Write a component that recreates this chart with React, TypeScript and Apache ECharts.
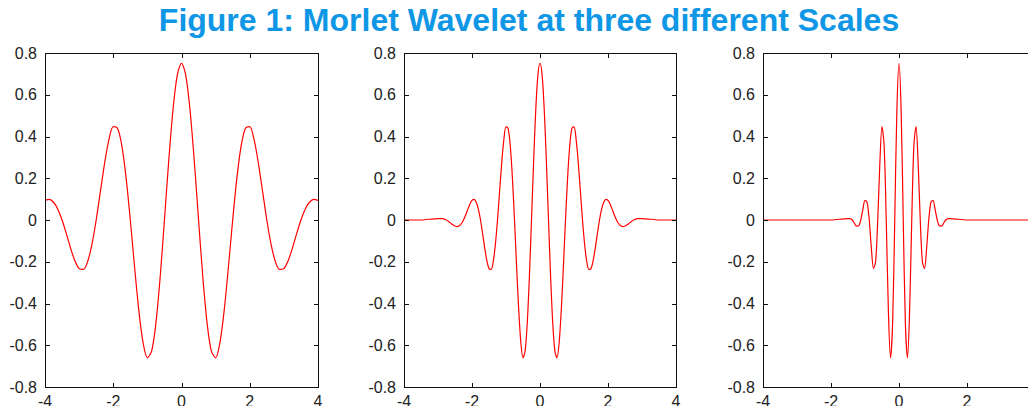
import React, { useEffect, useRef } from "react";
import * as echarts from "echarts";

const TITLE = "Figure 1: Morlet Wavelet at three different Scales";

// Panel 1 (widest scale)
const x1 = [-4, -3.875, -3.75, -3.625, -3.5, -3.375, -3.25, -3.125, -3, -2.875, -2.75, -2.625, -2.5, -2.375, -2.25,
  -2.125, -2, -1.875, -1.75, -1.625, -1.5, -1.375, -1.25, -1.125, -1, -0.875, -0.75, -0.625, -0.5, -0.375, -0.25,
  -0.125, 0, 0.125, 0.25, 0.375, 0.5, 0.625, 0.75, 0.875, 1, 1.125, 1.25, 1.375, 1.5, 1.625, 1.75, 1.875, 2, 2.125,
  2.25, 2.375, 2.5, 2.625, 2.75, 2.875, 3, 3.125, 3.25, 3.375, 3.5, 3.625, 3.75, 3.875, 4];
const y1 = [0.094, 0.099, 0.085, 0.052, 0, -0.065, -0.135, -0.195, -0.233, -0.237, -0.199, -0.117, 0, 0.138, 0.275,
  0.386, 0.447, 0.439, 0.357, 0.204, 0, -0.225, -0.434, -0.589, -0.66, -0.628, -0.494, -0.273, 0, 0.282, 0.527,
  0.693, 0.751, 0.693, 0.527, 0.282, 0, -0.273, -0.494, -0.628, -0.66, -0.589, -0.434, -0.225, 0, 0.204, 0.357,
  0.439, 0.447, 0.386, 0.275, 0.138, 0, -0.117, -0.199, -0.237, -0.233, -0.195, -0.135, -0.065, 0, 0.052, 0.085,
  0.099, 0.094];

// Panel 2 (middle scale)
const x2 = [-4, -3.5, -3, -2.875, -2.75, -2.6875, -2.625, -2.5625, -2.5, -2.4375, -2.375, -2.3125, -2.25, -2.1875,
  -2.125, -2.0625, -2, -1.9375, -1.875, -1.8125, -1.75, -1.6875, -1.625, -1.5625, -1.5, -1.4375, -1.375, -1.3125,
  -1.25, -1.1875, -1.125, -1.0625, -1, -0.9375, -0.875, -0.8125, -0.75, -0.6875, -0.625, -0.5625, -0.5, -0.4375,
  -0.375, -0.3125, -0.25, -0.1875, -0.125, -0.0625, 0, 0.0625, 0.125, 0.1875, 0.25, 0.3125, 0.375, 0.4375, 0.5,
  0.5625, 0.625, 0.6875, 0.75, 0.8125, 0.875, 0.9375, 1, 1.0625, 1.125, 1.1875, 1.25, 1.3125, 1.375, 1.4375, 1.5,
  1.5625, 1.625, 1.6875, 1.75, 1.8125, 1.875, 1.9375, 2, 2.0625, 2.125, 2.1875, 2.25, 2.3125, 2.375, 2.4375, 2.5,
  2.5625, 2.625, 2.6875, 2.75, 2.875, 3, 3.5, 4];
const y2 = [0, 0, 0.007, 0.007, 0, -0.007, -0.015, -0.023, -0.029, -0.032, -0.028, -0.018, 0, 0.024, 0.051, 0.076,
  0.094, 0.099, 0.085, 0.052, 0, -0.065, -0.135, -0.195, -0.233, -0.237, -0.199, -0.117, 0, 0.138, 0.275, 0.386,
  0.447, 0.439, 0.357, 0.204, 0, -0.225, -0.434, -0.589, -0.66, -0.628, -0.494, -0.273, 0, 0.282, 0.527, 0.693,
  0.751, 0.693, 0.527, 0.282, 0, -0.273, -0.494, -0.628, -0.66, -0.589, -0.434, -0.225, 0, 0.204, 0.357, 0.439,
  0.447, 0.386, 0.275, 0.138, 0, -0.117, -0.199, -0.237, -0.233, -0.195, -0.135, -0.065, 0, 0.052, 0.085, 0.099,
  0.094, 0.076, 0.051, 0.024, 0, -0.018, -0.028, -0.032, -0.029, -0.023, -0.015, -0.007, 0, 0.007, 0.007, 0, 0];

// Panel 3 (narrowest scale)
const x3 = [-4, -3, -2, -1.5, -1.4375, -1.375, -1.3125, -1.25, -1.1875, -1.125, -1.0625, -1, -0.9375, -0.875,
  -0.8125, -0.75, -0.6875, -0.625, -0.5625, -0.5, -0.4375, -0.375, -0.3125, -0.25, -0.1875, -0.125, -0.0625, 0,
  0.0625, 0.125, 0.1875, 0.25, 0.3125, 0.375, 0.4375, 0.5, 0.5625, 0.625, 0.6875, 0.75, 0.8125, 0.875, 0.9375, 1,
  1.0625, 1.125, 1.1875, 1.25, 1.3125, 1.375, 1.4375, 1.5, 2, 3, 4];
const y3 = [0, 0, 0, 0.007, 0.007, 0, -0.015, -0.029, -0.028, 0, 0.051, 0.094, 0.085, 0, -0.135, -0.233, -0.199,
  0, 0.275, 0.447, 0.357, 0, -0.434, -0.66, -0.494, 0, 0.527, 0.751, 0.527, 0, -0.494, -0.66, -0.434, 0,
  0.357, 0.447, 0.275, 0, -0.199, -0.233, -0.135, 0, 0.085, 0.094, 0.051, 0, -0.028, -0.029, -0.015, 0, 0.007,
  0.007, 0, 0, 0];

const X_MIN = -4, X_MAX = 4, X_STEP = 2;
const Y_MIN = -0.8, Y_MAX = 0.8, Y_STEP = 0.2;
const X_TICKS = [-4, -2, 0, 2, 4];
const Y_TICKS = [-0.8, -0.6, -0.4, -0.2, 0, 0.2, 0.4, 0.6, 0.8];

const panels = [
  { x: x1, y: y1 },
  { x: x2, y: y2 },
  { x: x3, y: y3 },
];

const gridBoxes = [
  { left: 45, top: 53, width: 273, height: 334 },
  { left: 404, top: 53, width: 272, height: 334 },
  { left: 763, top: 53, width: 272, height: 334 },
];

const FONT = "'Liberation Sans', Arial, Helvetica, sans-serif";
const TICK_LEN = 4;
const INK = "#111111";

export default function App() {
  const ref = useRef<HTMLDivElement>(null);
  useEffect(() => {
    if (!ref.current) return;
    const chart = echarts.init(ref.current, null, { renderer: "svg" });
    const mkLabel = () => ({ color: "#222", fontSize: 16, fontFamily: FONT });
    const xAxis: any[] = [];
    const yAxis: any[] = [];
    const series: any[] = [];
    gridBoxes.forEach((_, i) => {
      xAxis.push({
        type: "value", gridIndex: i, min: X_MIN, max: X_MAX, interval: X_STEP,
        axisLine: { show: false, onZero: false }, axisTick: { show: false }, splitLine: { show: false },
        axisLabel: { ...mkLabel(), margin: 6, showMaxLabel: i < 2 },
      });
      yAxis.push({
        type: "value", gridIndex: i, min: Y_MIN, max: Y_MAX, interval: Y_STEP,
        axisLine: { show: false, onZero: false }, axisTick: { show: false }, splitLine: { show: false },
        axisLabel: { ...mkLabel(), margin: 8, formatter: (v: number) => String(Math.round(v * 10) / 10) },
      });
      const p = panels[i];
      series.push({
        type: "line", xAxisIndex: i, yAxisIndex: i,
        data: p.x.map((xv, k) => [xv, p.y[k]]),
        smooth: 0.3, showSymbol: false, symbol: "none",
        lineStyle: { color: "#ff0000", width: 1.2 },
      });
    });
    chart.setOption({
      animation: false,
      grid: gridBoxes.map((g) => ({ ...g, outerBoundsMode: "none", containLabel: false })),
      xAxis,
      yAxis,
      series,
    });

    // box and inward ticks of each panel as thin filled bars, placed through the axes' own scales
    const toPx = (i: number, xv: number, yv: number): number[] => {
      const pt = chart.convertToPixel({ gridIndex: i }, [xv, yv]) as number[] | undefined;
      if (pt && isFinite(pt[0]) && isFinite(pt[1])) return pt;
      const g = gridBoxes[i];
      return [
        g.left + ((xv - X_MIN) / (X_MAX - X_MIN)) * g.width,
        g.top + ((Y_MAX - yv) / (Y_MAX - Y_MIN)) * g.height,
      ];
    };
    const bar = (x: number, y: number, w: number, h: number) => ({
      type: "rect", silent: true, z: 100,
      shape: { x, y, width: w, height: h },
      style: { fill: INK },
    });
    const graphics: any[] = [
      {
        type: "text", x: 529, y: 4, z: 100,
        style: {
          text: TITLE, textAlign: "center", textVerticalAlign: "top",
          fontSize: 32, fontWeight: "bold", fontFamily: FONT, fill: "#0f97e6",
        },
      },
    ];
    gridBoxes.forEach((_, i) => {
      const tl = toPx(i, X_MIN, Y_MAX);
      const br = toPx(i, X_MAX, Y_MIN);
      const L = Math.round(tl[0]), T = Math.round(tl[1]), R = Math.round(br[0]), B = Math.round(br[1]);
      graphics.push(bar(L, T, R - L + 1, 1));
      graphics.push(bar(L, B, R - L + 1, 1));
      graphics.push(bar(L, T, 1, B - T + 1));
      graphics.push(bar(R, T, 1, B - T + 1));
      X_TICKS.forEach((xv) => {
        const px = Math.round(toPx(i, xv, 0)[0]);
        graphics.push(bar(px, B - TICK_LEN, 1, TICK_LEN));
        graphics.push(bar(px, T + 1, 1, TICK_LEN));
      });
      Y_TICKS.forEach((yv) => {
        const py = Math.round(toPx(i, 0, yv)[1]);
        graphics.push(bar(L + 1, py, TICK_LEN, 1));
        graphics.push(bar(R - TICK_LEN, py, TICK_LEN, 1));
      });
    });
    chart.setOption({ graphic: graphics });
    return () => chart.dispose();
  }, []);
  return (
    <div
      ref={ref}
      style={{ position: "absolute", left: 0, top: 0, width: 1028, height: 406 }}
    />
  );
}
